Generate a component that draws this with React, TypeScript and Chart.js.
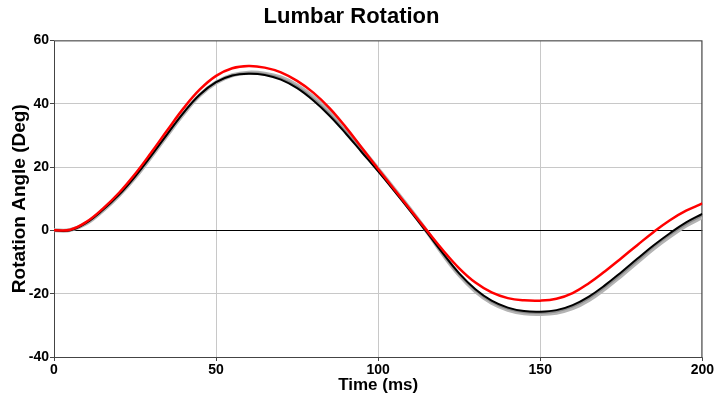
import React, { useEffect, useRef } from "react";
import { Chart, registerables } from "chart.js";

Chart.register(...registerables);

const timeMs = [0, 5, 10, 15, 20, 25, 30, 35, 40, 45, 50, 55, 60, 65, 70, 75, 80, 85, 90, 95, 100, 105, 110, 115, 120, 125, 130, 135, 140, 145, 150, 155, 160, 165, 170, 175, 180, 185, 190, 195, 200];

const redSeries = [0, 0.2, 2.7, 6.8, 11.8, 17.8, 24.6, 31.7, 38.6, 44.5, 48.8, 51.2, 51.9, 51.4, 49.9, 47.2, 43.5, 38.6, 32.6, 26.0, 19.4, 12.9, 6.4, 0.0, -6.3, -12.0, -16.5, -19.6, -21.4, -22.1, -22.2, -21.6, -19.8, -16.7, -12.9, -8.8, -4.6, -0.5, 3.2, 6.2, 8.5];

const blackSeries = [0, 0, 2.4, 6.4, 11.2, 17.0, 23.6, 30.5, 37.2, 42.9, 46.8, 48.9, 49.5, 49.1, 47.6, 44.9, 41.0, 36.2, 30.6, 24.6, 18.6, 12.4, 6.0, -0.6, -7.3, -13.6, -18.6, -22.2, -24.4, -25.5, -25.7, -25.2, -23.6, -20.9, -17.3, -13.2, -8.9, -4.7, -0.9, 2.5, 5.2];

const graySeriesA = [0, 0.1, 2.2, 6.2, 11.0, 16.7, 23.3, 30.2, 36.9, 42.7, 46.7, 49.0, 49.8, 49.5, 48.3, 45.8, 42.1, 37.4, 31.8, 25.7, 19.4, 13.0, 6.5, -0.3, -7.6, -14.1, -19.2, -22.9, -25.1, -26.2, -26.4, -26.0, -24.6, -22.0, -18.4, -14.3, -10.0, -5.7, -1.9, 1.5, 4.2];

const graySeriesB = [0, 0.1, 2.3, 6.3, 11.1, 16.9, 23.5, 30.4, 37.1, 42.8, 46.8, 49.0, 49.7, 49.3, 48.0, 45.4, 41.6, 36.8, 31.2, 25.2, 19.0, 12.7, 6.2, -0.5, -7.5, -13.9, -18.9, -22.6, -24.8, -25.9, -26.1, -25.6, -24.1, -21.5, -17.9, -13.8, -9.5, -5.2, -1.4, 2.0, 4.7];

const titleText = "Lumbar Rotation";
const xTitle = "Time (ms)";
const yTitle = "Rotation Angle (Deg)";

const boxPlugin = {
  id: "plotBox",
  beforeDatasetsDraw(chart: any) {
    const { ctx, chartArea } = chart;
    ctx.save();
    ctx.strokeStyle = "#444";
    ctx.lineWidth = 1;
    ctx.strokeRect(chartArea.left + 0.5, chartArea.top + 0.5, chartArea.right - chartArea.left - 1, chartArea.bottom - chartArea.top);
    ctx.restore();
  },
};

export default function App() {
  const ref = useRef<HTMLCanvasElement | null>(null);

  useEffect(() => {
    if (!ref.current) return;
    const mk = (vals: number[]) => timeMs.map((t, i) => ({ x: t, y: vals[i] }));
    const chart = new Chart(ref.current, {
      type: "line",
      data: {
        datasets: [
          { label: "red", data: mk(redSeries), borderColor: "#ff0000", borderWidth: 2.5, pointRadius: 0, tension: 0.4, order: 0 },
          { label: "black", data: mk(blackSeries), borderColor: "#000000", borderWidth: 2, pointRadius: 0, tension: 0.4, order: 1 },
          { label: "grayB", data: mk(graySeriesB), borderColor: "#8c8c8c", borderWidth: 2, pointRadius: 0, tension: 0.4, order: 2 },
          { label: "grayA", data: mk(graySeriesA), borderColor: "#b4b4b4", borderWidth: 4, pointRadius: 0, tension: 0.4, order: 3 },
        ],
      },
      options: {
        responsive: false,
        animation: false,
        devicePixelRatio: 1,
        layout: { padding: { left: 0, right: 12, top: 0, bottom: 0 } },
        plugins: {
          legend: { display: false },
          tooltip: { enabled: false },
          title: {
            display: true,
            text: titleText,
            color: "#000",
            font: { family: "Liberation Sans", size: 22, weight: "bold" },
            padding: { top: 4, bottom: 10 },
          },
        },
        scales: {
          x: {
            type: "linear",
            min: 0,
            max: 200,
            afterFit: (s: any) => { s.height = 41; },
            ticks: { stepSize: 50, color: "#000", padding: 1, font: { family: "Liberation Sans", size: 14, weight: "bold" }, maxRotation: 0 },
            grid: { color: "#c8c8c8", tickColor: "#444", tickLength: 4, drawTicks: true },
            border: { display: false },
            title: { display: true, text: xTitle, color: "#000", font: { family: "Liberation Sans", size: 17, weight: "bold" }, padding: { top: 0, bottom: 2 } },
          },
          y: {
            type: "linear",
            min: -40,
            max: 60,
            afterFit: (s: any) => { s.width = 54; },
            ticks: { stepSize: 20, color: "#000", padding: 1, font: { family: "Liberation Sans", size: 14, weight: "bold" } },
            grid: {
              color: (c: any) => (c.tick && c.tick.value === 0 ? "#000" : "#c8c8c8"),
              tickColor: "#444",
              tickLength: 4,
            },
            border: { display: false },
            title: { display: true, text: yTitle, color: "#000", font: { family: "Liberation Sans", size: 19, weight: "bold" }, padding: { top: 8, bottom: 0 } },
          },
        },
      },
      plugins: [boxPlugin],
    });
    return () => chart.destroy();
  }, []);

  return (
    <div style={{ position: "fixed", left: 0, top: 0, width: 715, height: 398, background: "#fff" }}>
      <canvas ref={ref} width={715} height={398} style={{ display: "block", width: 715, height: 398 }} />
    </div>
  );
}
